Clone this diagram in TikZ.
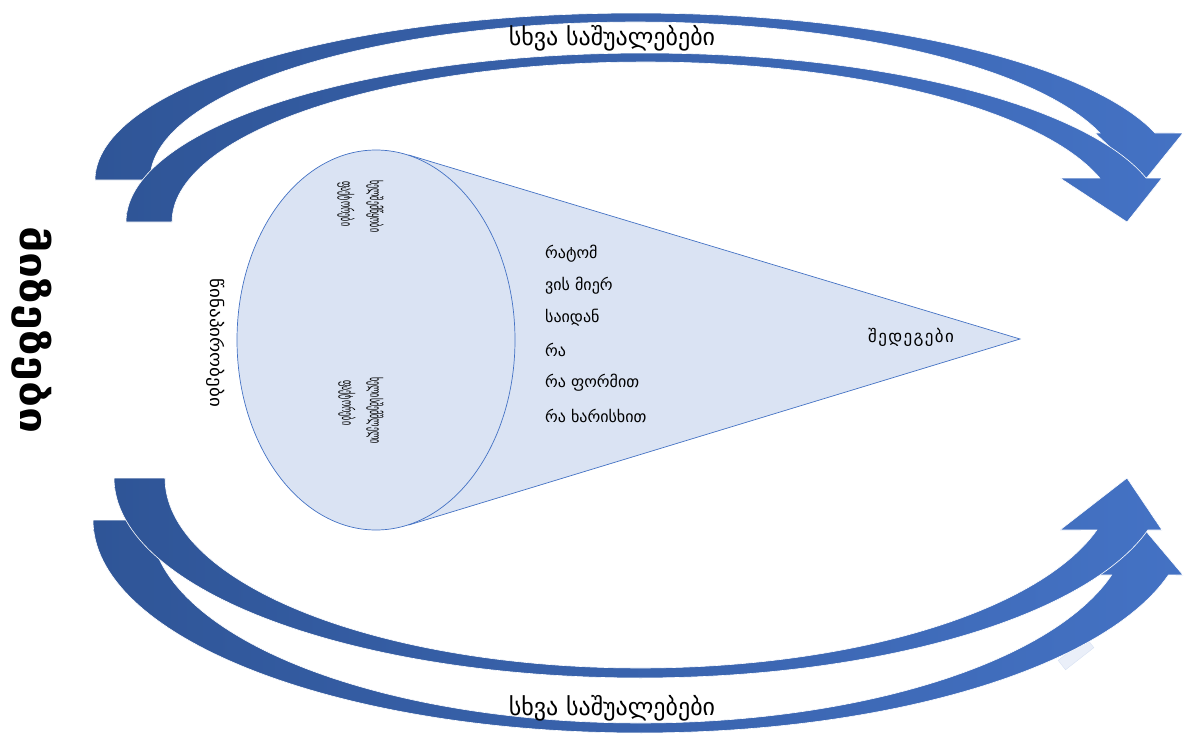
\documentclass[tikz,border=0pt]{standalone}
\usepackage{graphicx}
\usepackage{fontspec}
\setmainfont{DejaVu Sans}
\usetikzlibrary{shapes.geometric,backgrounds}
\definecolor{armdark}{HTML}{2F5597}
\definecolor{armlight}{HTML}{4472C4}
\definecolor{conefill}{HTML}{DAE3F3}
\definecolor{coneedge}{HTML}{4472C4}
\begin{document}
\begin{tikzpicture}[x=1pt,y=-1pt,
  band/.style={left color=armdark,right color=armlight,draw=white,line width=0.6pt},
  mouthshape/.style={ellipse,draw=coneedge,fill=conefill,line width=0.7pt,
    minimum width=278,minimum height=380,inner sep=0},
  coneline/.style={draw=coneedge,line width=0.7pt},
  cause/.style={rotate=-90,font=\bfseries\fontsize{38}{40}\selectfont,inner sep=0},
  side/.style={rotate=-90,font=\fontsize{17}{20}\selectfont,inner sep=0},
  factor/.style={rotate=-90,anchor=west,font=\fontsize{16}{18}\selectfont,inner sep=0},
  ask/.style={anchor=west,font=\fontsize{16}{18}\selectfont,inner sep=0},
  channel/.style={font=\fontsize{24}{26}\selectfont,inner sep=0}]
\useasboundingbox (0,0) rectangle (1186,734);

% small pale mark near the lower arrow head
\node[draw=coneedge!25,fill=conefill!70,opacity=0.8,minimum width=36,minimum height=12,
  inner sep=0,rotate=38] (mark) at (1076,654) {};

% upper pair of curved arrows (outer one first, inner one in front)
\path[band] plot[domain=180:343.65,samples=120] ({636+541*cos(\x)},{180+167*sin(\x)})
  -- (1183,133) -- (1145,180) -- (1095,133)
  -- plot[domain=342.69:180,samples=120] ({636+486*cos(\x)},{180+158*sin(\x)}) -- cycle;
\path[band] plot[domain=180:344.91,samples=120] ({645+519*cos(\x)},{222+169*sin(\x)})
  -- (1162,178) -- (1127,222) -- (1060,178)
  -- plot[domain=344.04:180,samples=120] ({645+473*cos(\x)},{222+160*sin(\x)}) -- cycle;

% lower pair of curved arrows (outer one first, inner one in front)
\path[band] plot[domain=180:14.96,samples=120] ({640+547*cos(\x)},{520+213*sin(\x)})
  -- (1183,575) -- (1145,530) -- (1095,575)
  -- plot[domain=15.72:180,samples=120] ({640+490*cos(\x)},{520+203*sin(\x)}) -- cycle;
\path[band] plot[domain=180:15.07,samples=120] ({640+526*cos(\x)},{478+200*sin(\x)})
  -- (1162,530) -- (1127,478) -- (1060,530)
  -- plot[domain=15.88:180,samples=120] ({640+475*cos(\x)},{478+190*sin(\x)}) -- cycle;

% the cone: open end and apex
\node[mouthshape] (mouth) at (376,340) {};
\coordinate (tip) at (1020,339);
\begin{scope}[on background layer]
  \fill[conefill] (mouth.80.8) -- (tip) -- (mouth.-80.8) -- cycle;
\end{scope}
\draw[coneline] (mouth.80.8) -- (tip) -- (mouth.-80.8);

% labels
\node[cause] (cause) at (32,330) {\scalebox{1.22}[1]{მიზეზები}};
\node[side] (pre) at (216,343) {\scalebox{1.12}[1]{წინაპირობები}};
\node[factor] (f1a) at (375,180) {\scalebox{0.5}[1]{ხელშემწყობი}};
\node[factor] (f1b) at (346,181) {\scalebox{0.5}[1]{ფაქტორები}};
\node[factor] (f2a) at (375,377) {\scalebox{0.5}[1]{ხელისშემშლელი}};
\node[factor] (f2b) at (347,380) {\scalebox{0.5}[1]{ფაქტორები}};

\node[ask] (q1) at (545,254) {რატომ};
\node[ask] (q2) at (545,286) {ვის მიერ};
\node[ask] (q3) at (545,318) {საიდან};
\node[ask] (q4) at (545,350) {რა};
\node[ask] (q5) at (545,383) {რა ფორმით};
\node[ask] (q6) at (545,416) {რა ხარისხით};
\node[ask,font=\fontsize{17}{19}\selectfont] (res) at (868,337) {\addfontfeatures{LetterSpace=8}შედეგები};

\node[channel] (ch1) at (612,38) {სხვა საშუალებები};
\node[channel] (ch2) at (612,708) {სხვა საშუალებები};
\end{tikzpicture}
\end{document}
